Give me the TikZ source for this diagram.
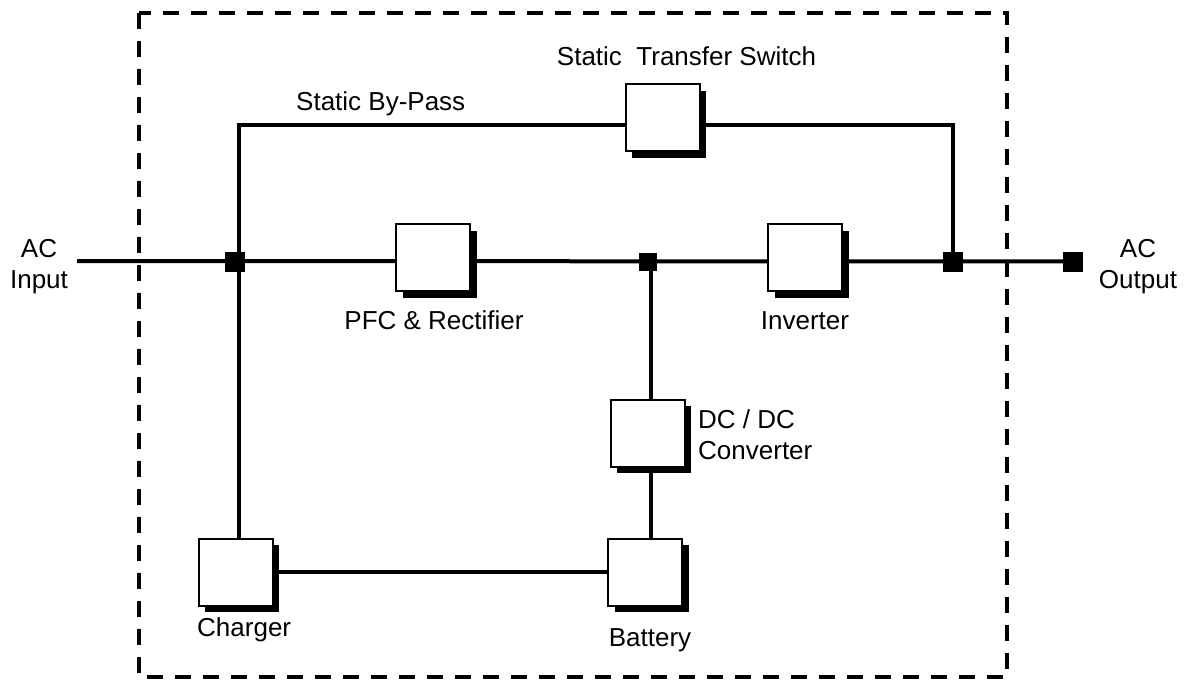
\documentclass[tikz,border=0pt]{standalone}
\usepackage{fontspec}
\setmainfont{Liberation Sans}
\usetikzlibrary{shadows,backgrounds}
\begin{document}
\begin{tikzpicture}[x=1pt,y=-1pt,
  wire/.style={line width=4pt},
  blk/.style={draw, line width=2pt, fill=white, minimum width=74pt, minimum height=67pt, inner sep=0pt,
    drop shadow={fill=black, opacity=1, shadow xshift=6.5pt, shadow yshift=-6.5pt}},
  dot/.style={fill=black, minimum size=20pt, inner sep=0pt},
  lbl/.style={font=\fontsize{26}{31}\selectfont, inner sep=0pt}]
\useasboundingbox (0,0) rectangle (1192,680);

% blocks
\node[blk] (sts)  at (662.5,117.5) {};
\node[blk] (pfc)  at (433,257.5) {};
\node[blk] (inv)  at (805,257.5) {};
\node[blk] (dcdc) at (647.5,433) {};
\node[blk] (bat)  at (645,572) {};
\node[blk] (chg)  at (235.5,572) {};

% junctions
\coordinate (inL) at (77,261);
\node[dot] (jin)  at (235,261.5) {};
\node[dot, minimum size=18pt] (jdc) at (648,261.5) {};
\node[dot] (jout) at (953,261.5) {};
\node[dot] (oend) at (1073,261.5) {};
\coordinate (bpL) at (239,125);
\coordinate (bpR) at (953,125);
\coordinate (dcx) at (651,261);

% labels
\node[lbl, anchor=base] (lsts) at (686.5,65) {Static~ Transfer Switch};
\node[lbl, anchor=base west] (lbp) at (296,110) {Static By-Pass};
\node[lbl, anchor=base] (lpfc) at (434,329) {PFC \& Rectifier};
\node[lbl, anchor=base] (linv) at (805,329) {Inverter};
\node[lbl, anchor=north west, align=left] (ldc) at (698,409) {DC / DC\\Converter};
\node[lbl, anchor=base west] (lchg) at (197,636) {Charger};
\node[lbl, anchor=base] (lbat) at (650,646) {Battery};
\node[lbl, anchor=north, align=center] (lin) at (39,239.5) {AC\\Input};
\node[lbl, anchor=north, align=center] (lout) at (1138,239.5) {AC\\Output};

\begin{scope}[on background layer]
  \draw[line width=4pt, dash pattern=on 16pt off 12pt] (139,13) rectangle (1007,677);
  \draw[wire] (inL) -- (oend);
  \draw[wire] (bpL |- chg.north) -- (bpL) -- (bpR) -- (bpR |- jout);
  \draw[wire] (dcx) -- (dcx |- dcdc.north);
  \draw[wire] (dcx |- dcdc.south) -- (dcx |- bat.north);
  \draw[wire] (chg) -- (bat);
\end{scope}
\end{tikzpicture}
\end{document}
